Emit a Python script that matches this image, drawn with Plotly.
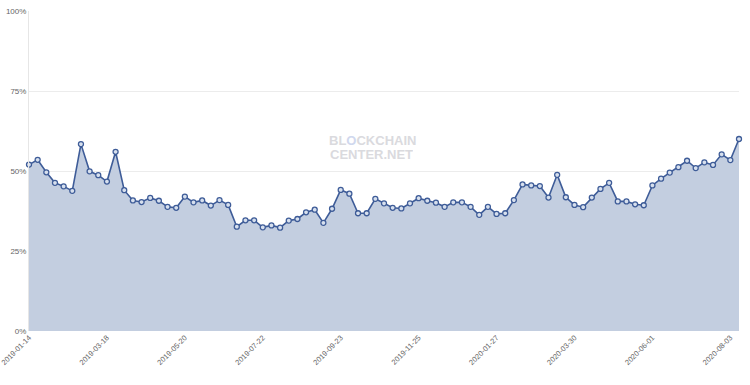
import datetime as dt
import plotly.graph_objects as go

start = dt.date(2019, 1, 14)
values = [
    52.0, 53.5, 49.6, 46.3, 45.2, 43.8, 58.4, 49.9, 48.7, 46.7,
    56.0, 44.0, 40.8, 40.3, 41.6, 40.7, 38.8, 38.5, 42.0, 40.2,
    40.8, 39.2, 40.9, 39.4, 32.6, 34.6, 34.6, 32.4, 33.0, 32.3,
    34.5, 35.0, 37.1, 37.9, 33.8, 38.2, 44.1, 42.9, 36.8, 36.8,
    41.3, 39.9, 38.5, 38.3, 39.9, 41.5, 40.7, 40.1, 38.8, 40.2,
    40.2, 38.8, 36.3, 38.8, 36.6, 36.8, 40.9, 45.8, 45.5, 45.3,
    41.7, 48.8, 41.8, 39.4, 38.7, 41.7, 44.4, 46.3, 40.5, 40.5,
    39.6, 39.3, 45.5, 47.6, 49.5, 51.2, 53.2, 50.9, 52.7, 51.9,
    55.2, 53.4, 60.0,
]
dates = [(start + dt.timedelta(days=7 * i)).isoformat() for i in range(len(values))]
tick_labels = dates[::9]
y_ticks = [0, 25, 50, 75, 100]

fig = go.Figure()
fig.add_trace(go.Scatter(
    x=dates, y=values, mode="lines+markers",
    fill="tozeroy", fillcolor="rgb(195,206,224)",
    line=dict(color="rgb(62,92,152)", width=1.6),
    marker=dict(size=5, color="rgb(215,224,238)",
                line=dict(color="rgb(62,92,152)", width=1.3)),
    cliponaxis=False, hoverinfo="x+y",
))

wm_font = dict(family="Liberation Sans, Arial", size=13, color="#dadade")
fig.add_annotation(
    x=0.484, y=0.596, xref="paper", yref="paper", showarrow=False,
    text="<b>BL<span style='color:#d0d8ee'>O</span>CKCHAIN</b>", font=wm_font,
    height=12, valign="middle",
)
fig.add_annotation(
    x=0.483, y=0.554, xref="paper", yref="paper", showarrow=False,
    text="<b>CENTER.NET</b>", font=wm_font, height=12, valign="middle",
)

fig.update_layout(
    width=750, height=385,
    margin=dict(l=29, r=11, t=11, b=54),
    plot_bgcolor="white", paper_bgcolor="white",
    showlegend=False,
    font=dict(family="Liberation Sans, Arial", size=8, color="#666666"),
    xaxis=dict(
        type="category", range=[0, len(values) - 1], automargin=False,
        tickmode="array", tickvals=tick_labels, ticktext=tick_labels,
        tickangle=-45, showgrid=False, zeroline=False,
        showline=False, ticks="", tickfont=dict(size=7.5, color="#666666"),
    ),
    yaxis=dict(
        range=[0, 100], tickmode="array", tickvals=y_ticks, automargin=False,
        ticktext=[f"{v}%" for v in y_ticks],
        showgrid=True, gridcolor="#ececec", gridwidth=1,
        zeroline=False, showline=True, linecolor="#e6e6e6",
        ticks="", tickfont=dict(size=8, color="#666666"),
    ),
)

fig.write_html(
    "out.html",
    config={"displayModeBar": False},
    post_script="document.body.style.margin='0';document.body.style.padding='0';",
)
